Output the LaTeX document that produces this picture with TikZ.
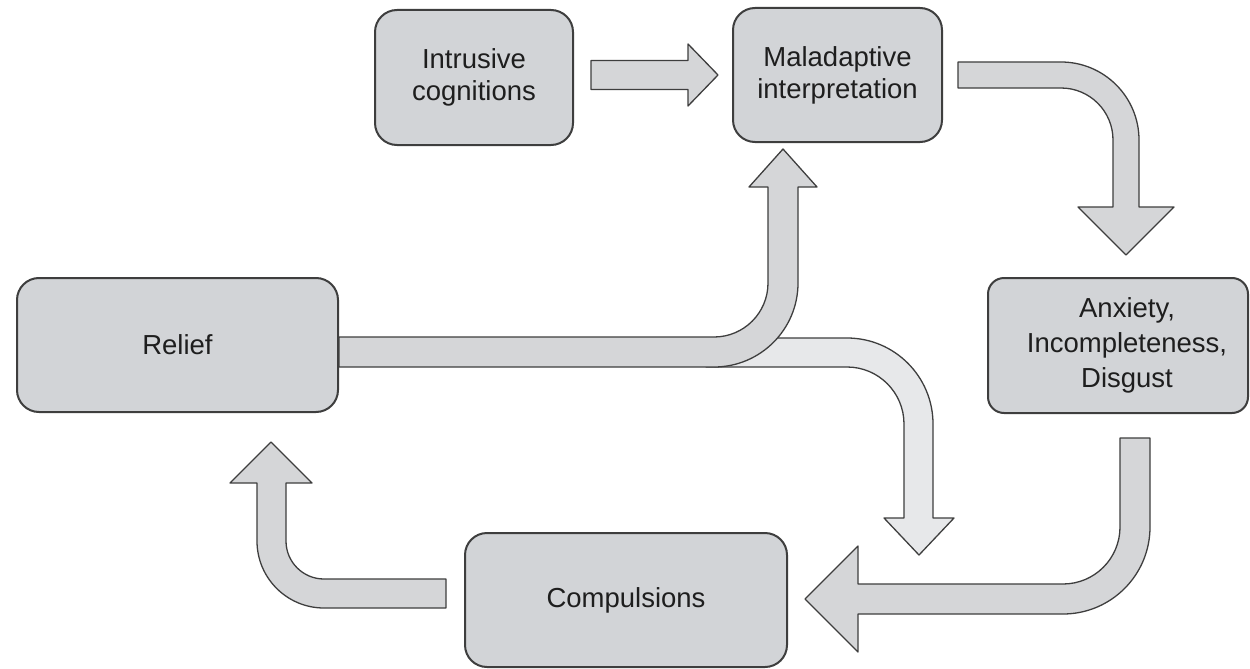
\documentclass[tikz,border=0pt]{standalone}
\usepackage{fontspec}
\setmainfont{Liberation Sans}
\usetikzlibrary{calc}
\definecolor{boxgray}{RGB}{210,212,215}
\definecolor{arrgray}{RGB}{213,214,216}
\definecolor{arrlight}{RGB}{231,232,234}
\definecolor{edgegray}{RGB}{62,62,62}
\definecolor{txtgray}{RGB}{30,30,30}
\begin{document}
\begin{tikzpicture}[x=1pt,y=-1pt,line join=round,
    box/.style={draw=edgegray,line width=2pt,fill=boxgray,rounded corners=22pt,
        align=center,text=txtgray,inner sep=0pt,font=\fontsize{27.5}{32}\selectfont},
    fatarrow/.style={draw=edgegray,line width=1.3pt,fill=arrgray},
    fatlight/.style={fatarrow,fill=arrlight}]
    \useasboundingbox (0,0) rectangle (1250,669);
    \node[box,minimum width=198pt,minimum height=135pt] (intr) at (474,77.5) {Intrusive\\cognitions};
    \node[box,minimum width=209pt,minimum height=134pt] (mal) at (837.5,75) {Maladaptive\\interpretation};
    \node[box,minimum width=321pt,minimum height=134pt] (relief) at (177.5,345) {Relief};
    \node[box,minimum width=260pt,minimum height=135pt,rounded corners=16pt,font=\fontsize{27.5}{35}\selectfont] (anx) at (1118,345.5)
        {\begin{tabular}{@{\hspace{18pt}}c@{}}Anxiety,\\Incompleteness,\\Disgust\end{tabular}};
    \node[box,minimum width=322pt,minimum height=134pt] (comp) at (626,600) {Compulsions};
    \filldraw[fatarrow]
    ($(intr.east|-mal.west)+(17,-14.5)$) -- ++(97,0) -- ++(0,-16.5) -- ++(30,31)
    -- ++(-30,31) -- ++(0,-16.5) -- ++(-97,0) -- cycle;
    \filldraw[fatarrow]
    ($(mal.east)+(15,-13)$) -- ++(103,0) arc(270:360:78) -- ++(0,67) -- ++(35,0) -- ++(-48,48)
    -- ++(-48,-48) -- ++(35,0) -- ++(0,-67) arc(0:-90:52) -- ++(-103,0) -- cycle;
    \filldraw[fatlight]
    ($(relief.east)+(367,-7)$) -- ++(141,0) arc(270:360:86) -- ++(0,94) -- ++(21,0) -- ++(-35,37)
    -- ++(-35,-37) -- ++(20,0) -- ++(0,-94) arc(0:-90:57) -- ++(-141,0) -- cycle;
    \filldraw[fatarrow]
    ($(relief.east)+(0,-8)$) -- ++(375,0) arc(90:0:54) -- ++(0,-96) -- ++(-19,0) -- ++(34,-38)
    -- ++(34,38) -- ++(-19,0) -- ++(0,96) arc(0:90:84) -- ++(-375,0) -- cycle;
    \filldraw[fatarrow]
    ($(anx.south)+(2,24)$) -- ++(30,0) -- ++(0,89) arc(0:90:87) -- ++(-205,0) -- ++(0,38)
    -- ++(-53,-53) -- ++(53,-53) -- ++(0,38) -- ++(205,0) arc(90:0:57) -- cycle;
    \filldraw[fatarrow]
    ($(comp.west)+(-18,-21)$) -- ++(-122,0) arc(90:180:38) -- ++(0,-58) -- ++(26,0) -- ++(-41,-41)
    -- ++(-41,41) -- ++(27,0) -- ++(0,58) arc(180:90:67) -- ++(122,0) -- cycle;
\end{tikzpicture}
\end{document}
